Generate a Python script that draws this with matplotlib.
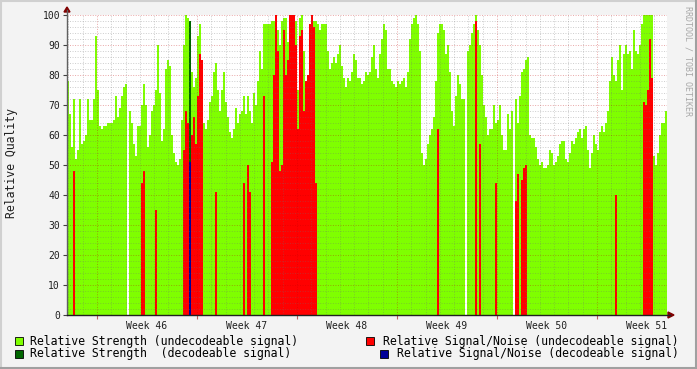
import numpy as np
import matplotlib
matplotlib.use("Agg")
import matplotlib.pyplot as plt
from matplotlib.lines import Line2D
from matplotlib.patches import Polygon, Rectangle

plt.rcParams['font.family'] = 'DejaVu Sans Mono'

# one sample every 0.02 week (~3.4 h), first sample at week 45.7
week_start = 45.7
step = 0.02

# relative strength, undecodeable signal
strength_undec = [
    78, 67, 56, 72, 52, 55, 72, 57, 58, 60, 72, 65, 65, 72, 93, 75, 63, 62, 63, 63,
    64, 64, 64, 65, 73, 66, 69, 73, 76, 77, 0, 68, 64, 57, 53, 63, 63, 70, 77, 70,
    56, 60, 68, 70, 75, 90, 74, 58, 62, 82,
    85, 83, 60, 54, 51, 50, 52, 65, 90, 100, 99, 98, 81, 76, 79, 93, 97, 70, 64, 62,
    65, 71, 73, 81, 84, 75, 68, 75, 81, 71, 66, 61, 59, 62, 69, 64, 67, 68, 73, 67,
    73, 68, 64, 74, 70, 78, 88, 82, 97, 97,
    97, 97, 98, 98, 100, 95, 90, 98, 99, 99, 91, 100, 100, 98, 98, 75, 99, 100, 88, 72,
    78, 86, 98, 98, 98, 97, 95, 97, 97, 97, 88, 82, 84, 86, 84, 87, 90, 83, 79, 76,
    79, 78, 81, 87, 85, 79, 79, 77, 78, 81,
    80, 81, 86, 90, 82, 79, 87, 92, 97, 95, 82, 82, 78, 77, 76, 78, 77, 78, 79, 76,
    81, 92, 97, 99, 100, 97, 88, 54, 50, 52, 57, 60, 62, 66, 78, 94, 97, 97, 95, 87,
    90, 81, 68, 63, 73, 80, 77, 72, 72, 0,
    88, 90, 94, 97, 100, 95, 90, 80, 70, 66, 60, 62, 62, 70, 64, 65, 70, 60, 55, 55,
    67, 62, 68, 0, 72, 64, 73, 81, 82, 85, 86, 60, 59, 59, 56, 52, 50, 51, 49, 49,
    50, 55, 54, 50, 51, 53, 57, 58, 58, 52,
    51, 54, 58, 57, 59, 61, 62, 59, 62, 63, 55, 49, 54, 60, 57, 55, 61, 63, 61, 64,
    68, 78, 86, 80, 78, 85, 90, 75, 87, 90, 87, 88, 82, 95, 88, 87, 90, 97, 100, 100,
    100, 100, 100, 53, 50, 54, 60, 64, 64, 68,
]

# relative signal/noise, undecodeable signal
snr_undec = [
    0, 0, 0, 48, 0, 0, 0, 0, 0, 0, 0, 0, 0, 0, 0, 0, 0, 0, 0, 0,
    0, 0, 0, 0, 0, 0, 0, 0, 0, 0, 0, 0, 0, 0, 0, 0, 0, 44, 48, 0,
    0, 0, 0, 0, 35, 0, 0, 0, 0, 0,
    0, 0, 0, 0, 0, 0, 0, 0, 55, 68, 64, 84, 60, 66, 57, 73, 87, 85, 0, 0,
    0, 0, 0, 0, 41, 0, 0, 0, 0, 0, 0, 0, 0, 0, 0, 0, 0, 0, 44, 0,
    50, 41, 0, 0, 0, 0, 0, 0, 73, 0,
    0, 0, 51, 80, 100, 88, 48, 50, 95, 80, 85, 100, 100, 100, 90, 62, 93, 95, 68, 78,
    80, 97, 100, 96, 44, 0, 0, 0, 0, 0, 0, 0, 0, 0, 0, 0, 0, 0, 0, 0,
    0, 0, 0, 0, 0, 0, 0, 0, 0, 0,
    0, 0, 0, 0, 0, 0, 0, 0, 0, 0, 0, 0, 0, 0, 0, 0, 0, 0, 0, 0,
    0, 0, 0, 0, 0, 0, 0, 0, 0, 0, 0, 0, 0, 0, 0, 62, 0, 0, 0, 0,
    0, 0, 0, 0, 0, 0, 0, 0, 0, 0,
    0, 0, 0, 0, 98, 0, 57, 0, 0, 0, 0, 0, 0, 0, 44, 0, 0, 0, 0, 0,
    0, 0, 0, 0, 38, 47, 0, 45, 49, 50, 0, 0, 0, 0, 0, 0, 0, 0, 0, 0,
    0, 0, 0, 0, 0, 0, 0, 0, 0, 0,
    0, 0, 0, 0, 0, 0, 0, 0, 0, 0, 0, 0, 0, 0, 0, 0, 0, 0, 0, 0,
    0, 0, 0, 0, 40, 0, 0, 0, 0, 0, 0, 0, 0, 0, 0, 0, 0, 0, 71, 70,
    75, 92, 79, 0, 0, 0, 0, 0, 0, 0,
]

# decodeable signal (only one sample in the period)
dec_weeks = [46.92]
dec_strength = [98]
dec_snr = [51]

week_labels = ['Week 46', 'Week 47', 'Week 48', 'Week 49', 'Week 50', 'Week 51']

W, H = 697, 369
fig = plt.figure(figsize=(W / 100, H / 100), dpi=100, facecolor='#f3f3f3')


def fx(px):
    return px / W


def fy(py):
    return 1 - py / H


ax = fig.add_axes([fx(67), fy(315), 600 / W, 300 / H])
ax.set_facecolor('white')

edges = week_start + step * np.arange(len(strength_undec) + 1)
ax.stairs(strength_undec, edges, fill=True, color='#7fff00', lw=0, zorder=1)
ax.stairs(snr_undec, edges, fill=True, color='#ff0000', lw=0, zorder=2)
ax.bar(dec_weeks, dec_strength, width=step, align='edge', color='#006600', lw=0, zorder=3)
ax.bar(dec_weeks, dec_snr, width=step, align='edge', color='#000099', lw=0, zorder=4)

ax.set_xlim(week_start, week_start + step * len(strength_undec))
ax.set_ylim(0, 100)

# grid on top of the data, rrdtool style
dots = (0, (1, 1.6))
for k in range(-2, 41):
    d = 46 + k / 7
    if k % 7 == 0:
        ax.axvline(d, color='#c00000', alpha=0.35, lw=0.7, ls=dots, zorder=5)
    else:
        ax.axvline(d, color='#707070', alpha=0.35, lw=0.7, ls=dots, zorder=5)
for v in range(2, 101, 2):
    if v % 10 == 0:
        ax.axhline(v, color='#c00000', alpha=0.35, lw=0.7, ls=dots, zorder=5)
    else:
        ax.axhline(v, color='#707070', alpha=0.35, lw=0.7, ls=dots, zorder=5)

for s in ax.spines.values():
    s.set_visible(False)

ax.set_yticks(range(0, 101, 10))
ax.tick_params(axis='y', length=3, width=0.8, color='#404040', labelsize=7, pad=2, labelcolor='#202020')
ax.set_xticks(np.arange(46, 52))
ax.set_xticklabels([])
ax.tick_params(axis='x', length=3, width=0.8, color='#c06060')
ax.set_xticks(np.arange(46.5, 52), minor=True)
ax.set_xticklabels(week_labels, minor=True)
ax.tick_params(axis='x', which='minor', length=0, labelsize=7, pad=4, labelcolor='#202020')

# axes lines with arrows
fig.add_artist(Line2D([fx(67), fx(67)], [fy(315), fy(10)], color='#606060', lw=1))
fig.add_artist(Line2D([fx(67), fx(670)], [fy(315), fy(315)], color='#202020', lw=1))
fig.add_artist(Polygon([[fx(64), fy(12)], [fx(70), fy(12)], [fx(67), fy(7)]],
                       closed=True, color='#800000', transform=fig.transFigure))
fig.add_artist(Polygon([[fx(668), fy(312)], [fx(668), fy(318)], [fx(674), fy(315)]],
                       closed=True, color='#800000', transform=fig.transFigure))

fig.text(fx(12), fy(163), 'Relative Quality', rotation=90, ha='center', va='center',
         fontsize=8.3, color='#202020')
fig.text(fx(688), fy(6), 'RRDTOOL / TOBI OETIKER', rotation=270, ha='center', va='top',
         fontsize=6, color='#a8a8a8')

# legend
legend_items = [
    (15, 341, '#7fff00', 'Relative Strength (undecodeable signal)', 30, 'left'),
    (15, 354, '#006600', 'Relative Strength  (decodeable signal)', 30, 'left'),
    (366, 341, '#ff0000', 'Relative Signal/Noise (undecodeable signal)', 679, 'right'),
    (380, 354, '#000099', 'Relative Signal/Noise (decodeable signal)', 679, 'right'),
]
for sx, sy, col, label, tx, ha in legend_items:
    fig.add_artist(Rectangle((fx(sx), fy(sy + 4)), 8 / W, 8 / H, facecolor=col,
                             edgecolor='black', lw=0.6, transform=fig.transFigure))
    fig.text(fx(tx), fy(sy), label, ha=ha, va='center', fontsize=8.3, color='black')

# 3d-ish frame
fig.add_artist(Line2D([0, 1], [fy(0.5), fy(0.5)], color='#d0d0d0', lw=1.5))
fig.add_artist(Line2D([fx(0.5), fx(0.5)], [0, 1], color='#d0d0d0', lw=1.5))
fig.add_artist(Line2D([0, 1], [fy(368), fy(368)], color='#a0a0a0', lw=1.5))
fig.add_artist(Line2D([fx(696), fx(696)], [0, 1], color='#a0a0a0', lw=1.5))

fig.savefig('out.png', dpi=100, facecolor=fig.get_facecolor())
